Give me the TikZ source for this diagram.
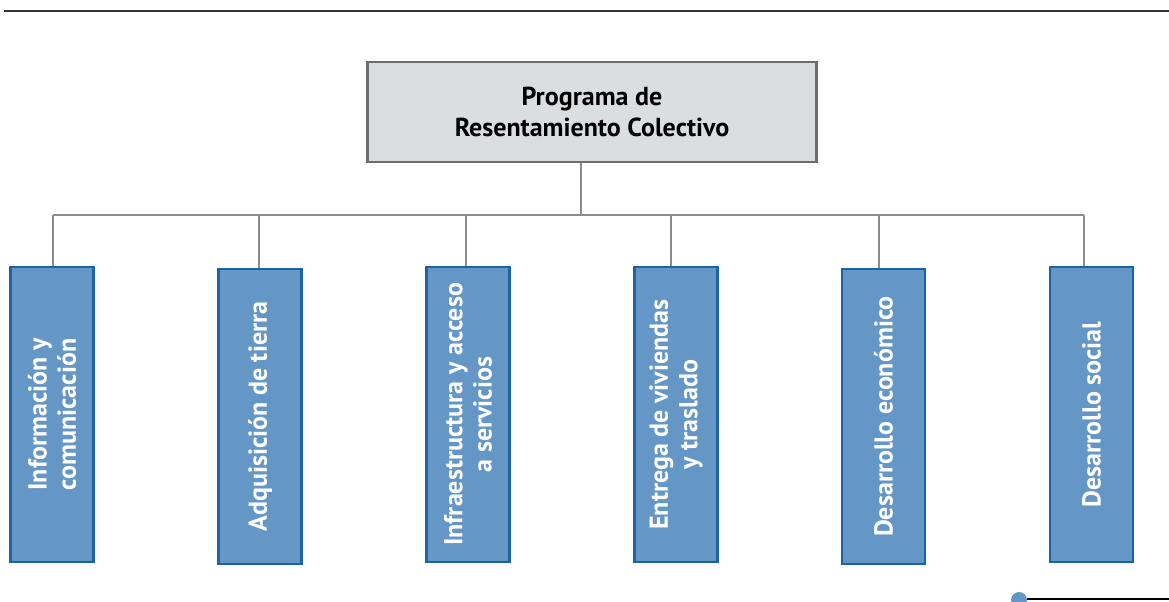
\documentclass[tikz,border=0pt]{standalone}
\usepackage{fontspec}
\setmainfont{PT Sans}
\definecolor{titlefill}{HTML}{DCDDDF}
\definecolor{titleline}{HTML}{6D6E71}
\definecolor{busgray}{HTML}{8C8C8C}
\definecolor{boxfill}{HTML}{6497C5}
\definecolor{boxline}{HTML}{1C63A5}
\definecolor{rulegray}{HTML}{333333}

\begin{document}
\begin{tikzpicture}[x=0.75pt,y=-0.75pt,
    topbox/.style={draw=titleline,line width=1.8pt,fill=titlefill,minimum width=337pt,minimum height=75pt,align=center,font=\fontsize{19.5}{23}\selectfont\bfseries},
    subbox/.style={draw=boxline,line width=1.8pt,fill=boxfill,rotate=90,minimum width=221pt,minimum height=62pt,align=center,text=white,font=\fontsize{19.5}{22}\selectfont\bfseries},
    bus/.style={draw=busgray,line width=1.5pt}]
    \useasboundingbox (0,0) rectangle (1169,601);
    \draw[rulegray,line width=1.5pt] (4,11) -- (1169,11);
    % title ===================================================
    \node[topbox] (prog) at (592,112) {Programa de\\Resentamiento Colectivo};
    % components ==============================================
    \node[subbox] (info)  at (52,414.5)   {Información y\\comunicación};
    \node[subbox] (tierra) at (260,416.5) {Adquisición de tierra};
    \node[subbox] (infra) at (468,414.5)  {Infraestructura y acceso\\a servicios};
    \node[subbox] (viv)   at (676,414.5)  {Entrega de viviendas\\y traslado};
    \node[subbox] (econ)  at (883.5,416.5) {Desarrollo económico};
    \node[subbox] (soc)   at (1091.5,414.5) {Desarrollo social};
    % tree lines ==============================================
    \coordinate (trunk) at (581,215);
    \coordinate (d1) at (53,215);  \coordinate (d2) at (259,215);
    \coordinate (d3) at (466,215); \coordinate (d4) at (671,215);
    \coordinate (d5) at (879,215); \coordinate (d6) at (1084,215);
    \draw[bus] (prog.south -| trunk) -- (trunk);
    \draw[bus] (d1) -- (d6);
    \draw[bus] (d1) -- (d1 |- info.east);   \draw[bus] (d2) -- (d2 |- tierra.east);
    \draw[bus] (d3) -- (d3 |- infra.east);  \draw[bus] (d4) -- (d4 |- viv.east);
    \draw[bus] (d5) -- (d5 |- econ.east);   \draw[bus] (d6) -- (d6 |- soc.east);
    % page mark
    \fill[boxfill] (1019,600) circle (8);
    \draw[black,line width=0.8pt] (1027,599) -- (1169,599);
\end{tikzpicture}
\end{document}
